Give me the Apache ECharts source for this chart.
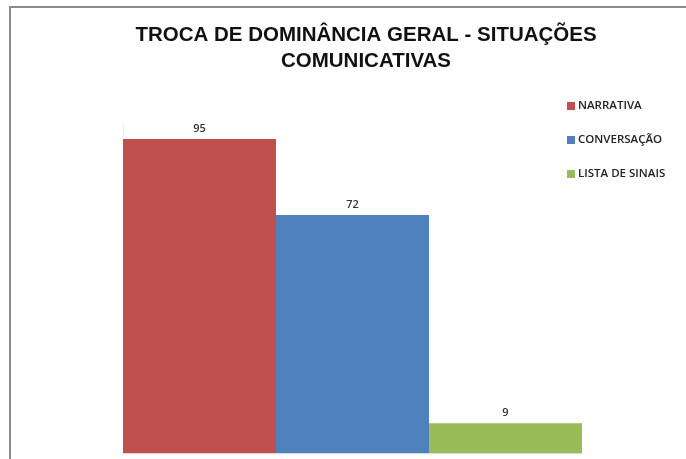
<!DOCTYPE html>
<html>
<head>
<meta charset="utf-8">
<script src="https://cdn.jsdelivr.net/npm/echarts@6/dist/echarts.min.js"></script>
<style>
  html, body { margin: 0; padding: 0; background: #fff; }
  #main { width: 686px; height: 459px; }
</style>
</head>
<body>
<div id="main"></div>
<script>
// dados do gráfico
var categories = ['Situações'];
var seriesNames = ['NARRATIVA', 'CONVERSAÇÃO', 'LISTA DE SINAIS'];
var seriesValues = [[95], [72], [9]];
var colors = ['#C0504D', '#4F81BD', '#9BBB59'];

var myChart = echarts.init(document.getElementById('main'));

var series = seriesNames.map(function (name, i) {
  return {
    name: name,
    type: 'bar',
    data: seriesValues[i],
    itemStyle: { color: colors[i] },
    barGap: '0%',
    barCategoryGap: '0%',
    label: {
      show: true,
      position: 'top',
      distance: 5,
      color: '#333',
      fontSize: 11,
      fontWeight: 600,
      fontFamily: 'Open Sans'
    }
  };
});

myChart.setOption({
  animation: false,
  title: {
    text: 'TROCA DE DOMINÂNCIA GERAL - SITUAÇÕES\nCOMUNICATIVAS',
    left: 361,
    textAlign: 'center',
    top: 17,
    textStyle: {
      fontFamily: 'Liberation Sans',
      fontWeight: 'bold',
      fontSize: 20.5,
      lineHeight: 26,
      color: '#111'
    }
  },
  legend: {
    orient: 'vertical',
    left: 562,
    top: 95,
    itemWidth: 8,
    itemHeight: 8,
    itemGap: 22,
    icon: 'rect',
    textStyle: {
      fontFamily: 'Open Sans',
      fontSize: 11.5,
      fontWeight: 600,
      color: '#222',
      padding: [0, 0, 0, -2]
    },
    data: seriesNames
  },
  graphic: [{
    type: 'polyline',
    shape: { points: [[10, 459], [10, 7], [686, 7]] },
    style: { stroke: '#8a8a8a', lineWidth: 2, fill: null }
  }],
  grid: {
    left: 123,
    top: 122.5,
    width: 459,
    bottom: 6
  },
  xAxis: {
    type: 'category',
    data: categories,
    axisLine: { show: true, lineStyle: { color: '#d9d9d9' } },
    axisTick: { show: false },
    axisLabel: { show: false }
  },
  yAxis: {
    type: 'value',
    min: 0,
    max: 100,
    interval: 10,
    axisLine: { show: true, lineStyle: { color: '#f0f0f0' } },
    axisTick: { show: false },
    axisLabel: { show: false },
    splitLine: { show: false }
  },
  series: series
});
</script>
</body>
</html>
